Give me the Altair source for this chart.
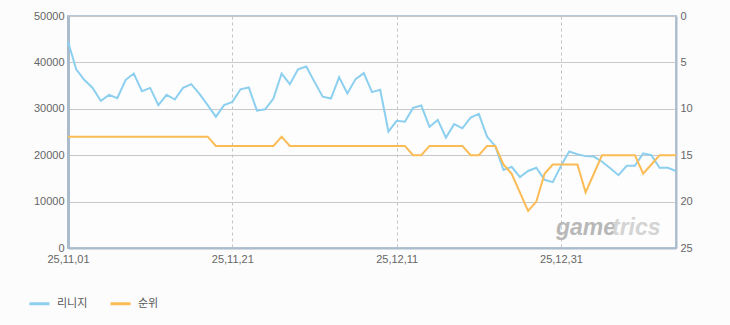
import altair as alt
import pandas as pd

# ---- data ----
dates = pd.date_range("2025-11-01", periods=75, freq="D").strftime("%Y-%m-%d").tolist()

lineage = [
    44500, 38500, 36200, 34500, 31700, 33000, 32300, 36200, 37600, 33800,
    34500, 30800, 33000, 32000, 34500, 35300, 33200, 30800, 28300, 30800,
    31500, 34200, 34600, 29600, 29900, 32200, 37600, 35300, 38500, 39100,
    35800, 32600, 32200, 36800, 33300, 36400, 37700, 33600, 34100, 25100,
    27400, 27200, 30200, 30700, 26100, 27600, 23800, 26700, 25800, 28100,
    28900, 24000, 22000, 16800, 17500, 15300, 16600, 17300, 14700, 14200,
    17700, 20800, 20200, 19800, 19700, 18600, 17200, 15700, 17700, 17700,
    20400, 20000, 17300, 17300, 16600,
]

rank = [
    13, 13, 13, 13, 13, 13, 13, 13, 13, 13,
    13, 13, 13, 13, 13, 13, 13, 13, 14, 14,
    14, 14, 14, 14, 14, 14, 13, 14, 14, 14,
    14, 14, 14, 14, 14, 14, 14, 14, 14, 14,
    14, 14, 15, 15, 14, 14, 14, 14, 14, 15,
    15, 14, 14, 16, 17, 19, 21, 20, 17, 16,
    16, 16, 16, 19, 17, 15, 15, 15, 15, 15,
    17, 16, 15, 15, 15,
]

series_names = ["리니지", "순위"]
series_colors = ["#8ccfef", "#fbbb55"]
tick_dates = ["2025-11-01", "2025-11-21", "2025-12-11", "2025-12-31"]
left_ticks = [0, 10000, 20000, 30000, 40000, 50000]
right_ticks = [0, 5, 10, 15, 20, 25]

df_a = pd.DataFrame({"date": dates, "value": lineage, "series": series_names[0]})
df_b = pd.DataFrame({"date": dates, "value": rank, "series": series_names[1]})

FONT = "Liberation Sans, Noto Sans CJK KR, sans-serif"

x_enc = alt.X(
    "date:T",
    scale=alt.Scale(type="utc", domain=[dates[0], dates[-1]]),
    axis=alt.Axis(
        values=[alt.DateTime(year=int(d[:4]), month=int(d[5:7]), date=int(d[8:]), utc=True) for d in tick_dates],
        labelExpr="utcFormat(datum.value, '%y,%m,%d')",
        title=None,
        grid=True,
        gridDash=[3, 3],
        gridColor="#c4c4c4",
        ticks=False,
        domainColor="#aabbcc",
        domainWidth=2,
        labelPadding=5,
        labelFontSize=11,
        labelColor="#666666",
        labelAlign="center",
        labelFlush=False,
        labelOverlap=False,
    ),
)

color_enc = alt.Color(
    "series:N",
    scale=alt.Scale(domain=series_names, range=series_colors),
    legend=alt.Legend(
        title=None,
        orient="none",
        direction="horizontal",
        legendX=-40,
        legendY=276,
        symbolType="stroke",
        symbolSize=400,
        symbolStrokeWidth=3,
        labelFontSize=11,
        labelColor="#555555",
        labelFont="Noto Sans CJK KR",
        labelOffset=6,
        columnPadding=16,
    ),
)

line_a = alt.Chart(df_a).mark_line(strokeWidth=2).encode(
    x=x_enc,
    y=alt.Y(
        "value:Q",
        scale=alt.Scale(domain=[0, 50000], nice=False),
        axis=alt.Axis(
            values=left_ticks,
            format="d",
            title=None,
            grid=True,
            gridColor="#c8c8c8",
            ticks=False,
            domainColor="#aabbcc",
            domainWidth=3,
            labelPadding=4,
            labelFontSize=11,
            labelColor="#666666",
        ),
    ),
    color=color_enc,
)

line_b = alt.Chart(df_b).mark_line(strokeWidth=2).encode(
    x=x_enc,
    y=alt.Y(
        "value:Q",
        scale=alt.Scale(domain=[0, 25], reverse=True, nice=False),
        axis=alt.Axis(
            orient="right",
            values=right_ticks,
            format="d",
            title=None,
            grid=False,
            ticks=False,
            domainColor="#aabbcc",
            domainWidth=2,
            labelPadding=4,
            labelFontSize=11,
            labelColor="#666666",
        ),
    ),
    color=color_enc,
)

logo_a = alt.Chart(pd.DataFrame({"t": ["game"]})).mark_text(
    fontSize=23, fontStyle="italic", fontWeight="bold", color="#b8b8b8",
    align="left", baseline="alphabetic", font="Liberation Sans",
).encode(text="t:N", x=alt.value(488), y=alt.value(219))

logo_b = alt.Chart(pd.DataFrame({"t": ["trics"]})).mark_text(
    fontSize=23, fontStyle="italic", fontWeight="bold", color="#d4d4d4",
    align="left", baseline="alphabetic", font="Liberation Sans",
).encode(text="t:N", x=alt.value(544), y=alt.value(219))

chart = (
    alt.layer(line_a, line_b, logo_a, logo_b)
    .resolve_scale(y="independent")
    .properties(
        width=608,
        height=232,
        background="#fcfcfc",
        padding={"left": 68, "top": 16, "right": 54, "bottom": 77},
        autosize=alt.AutoSizeParams(type="none"),
    )
    .configure(font=FONT)
    .configure_view(stroke="#b8c8d8", strokeWidth=2, fill="#fdfdfd")
)

chart.save("out.html", embed_options={"renderer": "svg", "actions": False})
